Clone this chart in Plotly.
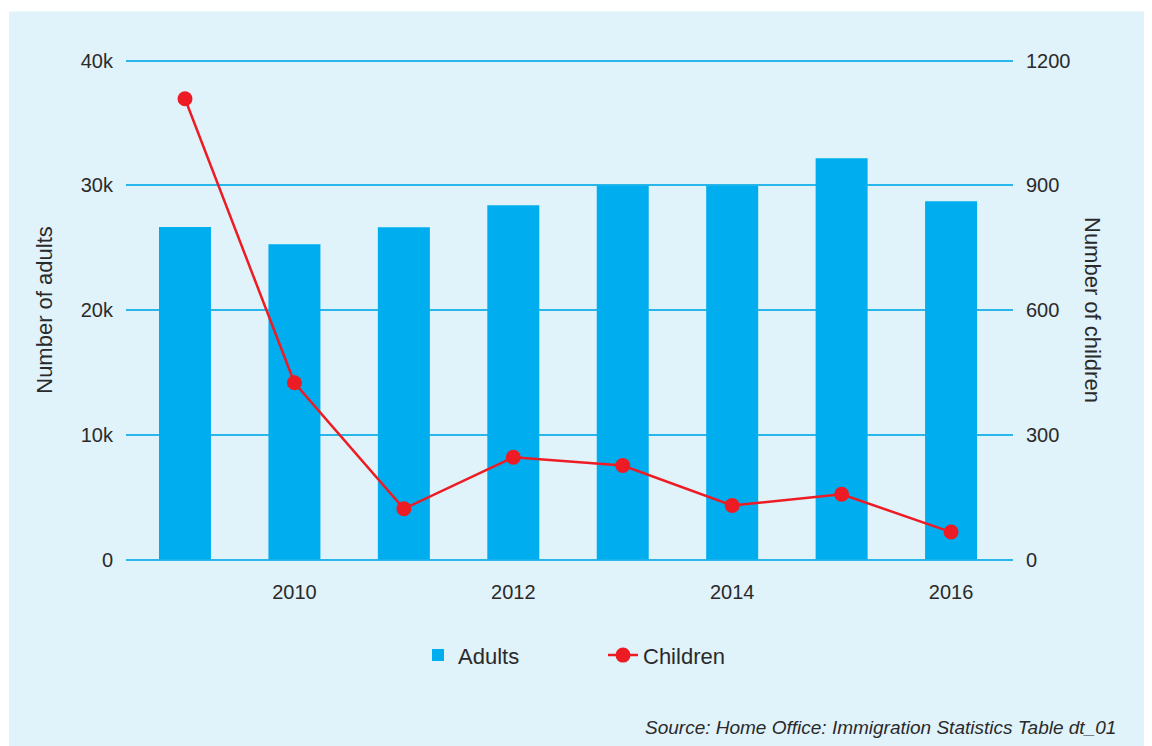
import plotly.graph_objects as go

years = [2009, 2010, 2011, 2012, 2013, 2014, 2015, 2016]
adults = [26650, 25280, 26640, 28400, 29950, 29950, 32160, 28720]
children = [1108, 425, 122, 246, 226, 130, 157, 66]

left_ticks = [0, 10000, 20000, 30000, 40000]
left_labels = ["0", "10k", "20k", "30k", "40k"]
right_ticks = [0, 300, 600, 900, 1200]
right_labels = ["0", "300", "600", "900", "1200"]
x_ticks = [2010, 2012, 2014, 2016]

BAR = "#00aeef"
RED = "#ed1c24"
BG = "#e0f2fa"
GRID = "#29b6ea"
TXT = "#2a2a2a"
FONT = "Liberation Sans, Arial, sans-serif"

OFF = 8  # page body margin
W, H = 1160, 746 - OFF

# value axis: 0 at page y=560, max at page y=60; small padding so end gridlines show
YMAX, Y2MAX = 40000, 1200
PADF = 0.005
Y0PX, YTOPPX = 560, 60
span = Y0PX - YTOPPX
padpx = span * PADF
L, R = 126, 1013
T, B = YTOPPX - padpx, Y0PX + padpx
pw, ph = R - L, B - T


def px2x(px):
    return (px - L) / pw


def px2y(py):
    return (B - py) / ph


fig = go.Figure()
fig.add_trace(go.Bar(x=years, y=adults, name="Adults", marker_color=BAR,
                     marker_line_width=0, width=0.475, yaxis="y"))
fig.add_trace(go.Scatter(x=years, y=children, name="Children", mode="lines+markers",
                         line=dict(color=RED, width=2.5),
                         marker=dict(color=RED, size=15), yaxis="y2"))

fig.update_layout(
    width=W, height=H,
    margin=dict(l=L - OFF, r=W + OFF - R, t=T - OFF, b=746 - B, pad=0),
    paper_bgcolor="white",
    plot_bgcolor="rgba(0,0,0,0)",
    font=dict(family=FONT, size=20, color=TXT),
    showlegend=True,
    legend=dict(orientation="h", x=px2x(603), y=px2y(656), xanchor="center",
                yanchor="middle", font=dict(size=22, color=TXT),
                bgcolor="rgba(0,0,0,0)", entrywidth=140, traceorder="normal"),
    xaxis=dict(range=[2008.461, 2016.566], tickvals=x_ticks,
               ticktext=[str(v) for v in x_ticks], showgrid=False,
               zeroline=False, showline=False, ticks="", ticklabelstandoff=16,
               tickfont=dict(size=20, color=TXT)),
    yaxis=dict(range=[-YMAX * PADF, YMAX * (1 + PADF)], tickvals=left_ticks,
               ticktext=left_labels,
               showgrid=True, gridcolor=GRID, gridwidth=1.5, zeroline=False,
               showline=False, ticks="", ticklabelstandoff=12,
               tickfont=dict(size=20, color=TXT),
               title=dict(text="Number of adults", font=dict(size=22, color=TXT),
                          standoff=22)),
    yaxis2=dict(range=[-Y2MAX * PADF, Y2MAX * (1 + PADF)], tickvals=right_ticks,
                ticktext=right_labels,
                overlaying="y", side="right", showgrid=False, zeroline=False,
                showline=False, ticks="", ticklabelstandoff=12,
                tickfont=dict(size=20, color=TXT)),
    barmode="overlay",
)

# panel background
fig.add_shape(type="rect", xref="paper", yref="paper", layer="below",
              x0=px2x(9), x1=px2x(1180), y0=px2y(770), y1=px2y(11),
              fillcolor=BG, line=dict(width=0))

# right axis title (rotated, reading top to bottom)
fig.add_annotation(xref="paper", yref="paper", x=px2x(1093), y=px2y(310),
                   text="Number of children", textangle=90, showarrow=False,
                   font=dict(size=22, color=TXT), xanchor="center", yanchor="middle")

fig.add_annotation(xref="paper", yref="paper", x=px2x(1118), y=px2y(728),
                   text="<i>Source: Home Office: Immigration Statistics Table dt_01</i>",
                   showarrow=False, xanchor="right", yanchor="middle",
                   font=dict(size=19, color=TXT))

fig.write_html("out.html", post_script="document.body.style.overflow='hidden';")
